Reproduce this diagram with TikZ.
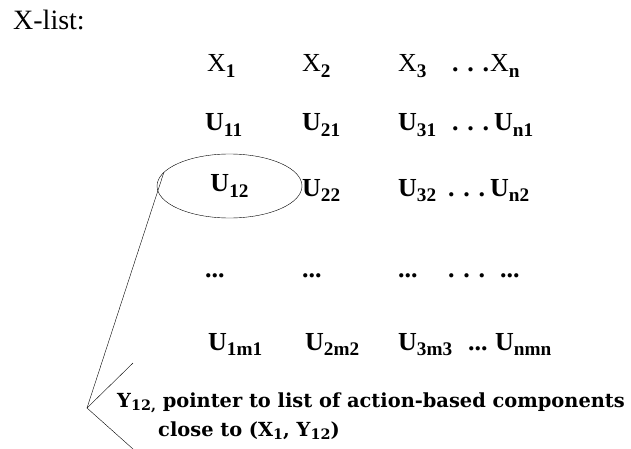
\documentclass[tikz,border=0pt]{standalone}
\usepackage{fontspec}
\usepackage{graphicx}
\setmainfont{Liberation Serif}
\newfontfamily\notefont{DejaVu Serif}
\usetikzlibrary{shapes.geometric}
\newcommand{\ix}[1]{\raisebox{-.2em}{\scalebox{.74}{\bfseries #1}}}
\tikzset{
  xentry/.style={anchor=base west, inner sep=0pt, font=\fontsize{26}{28}\selectfont},
  uentry/.style={xentry, font=\fontsize{26}{28}\selectfont\bfseries},
  note/.style={anchor=base west, inner sep=0pt, font=\notefont\bfseries\fontsize{19.4}{22}\selectfont},
}

\begin{document}
\begin{tikzpicture}[x=1pt, y=-1pt]
      \useasboundingbox (0,0) rectangle (631,449);
      \node[xentry, font=\fontsize{28}{30}\selectfont] (title) at (13, 30) {X-list:};
      % first row
      \node[xentry] (x1) at (207, 72) {X\ix{1}};
      \node[xentry] (x2) at (302, 72) {X\ix{2}};
      \node[xentry] (x3) at (398, 72) {X\ix{3}};
      \node[uentry] (xd) at (452, 72) {. . .};
      \node[xentry] (xn) at (490, 72) {X\ix{n}};
      % second row
      \node[uentry] (u11) at (205, 131) {U\ix{11}};
      \node[uentry] (u21) at (302, 131) {U\ix{21}};
      \node[uentry] (u31) at (398, 131) {U\ix{31}};
      \node[uentry] (ud1) at (452, 131) {. . .};
      \node[uentry] (un1) at (494, 131) {U\ix{n1}};
      % third row
      \node[uentry, anchor=center, draw, ellipse, minimum width=145pt, minimum height=64pt] (u12) at (229.5, 186) {U\ix{12}};
      \node[uentry] (u22) at (302, 196) {U\ix{22}};
      \node[uentry] (u32) at (398, 196) {U\ix{32}};
      \node[uentry] (ud2) at (448, 196) {. . .};
      \node[uentry] (un2) at (490, 196) {U\ix{n2}};
      % dots
      \node[uentry] (d1) at (205, 277) {...};
      \node[uentry] (d2) at (302, 277) {...};
      \node[uentry] (d3) at (398, 277) {...};
      \node[uentry] (d4) at (448, 277) {. . .};
      \node[uentry] (d5) at (500, 277) {...};
      % last row
      \node[uentry] (u1m) at (208, 350) {U\ix{1m1}};
      \node[uentry] (u2m) at (305, 350) {U\ix{2m2}};
      \node[uentry] (u3m) at (398, 350) {U\ix{3m3}};
      \node[uentry] (udm) at (468, 350) {...};
      \node[uentry] (unm) at (495, 350) {U\ix{nmn}};
      % pointer
      \node[note] (ptr) at (117, 407) {Y\ix{12,} pointer to list of action-based components};
      \node[note] (ptr2) at (158, 436) {close to (X\ix{1}, Y\ix{12})};
      \coordinate (tip) at (87, 408);
      \coordinate (wingup) at (133, 363);
      \coordinate (wingdown) at (133, 449);
      \draw (u12.168) -- (tip);
      \draw (tip) -- (wingup);
      \draw (tip) -- (wingdown);
\end{tikzpicture}
\end{document}
